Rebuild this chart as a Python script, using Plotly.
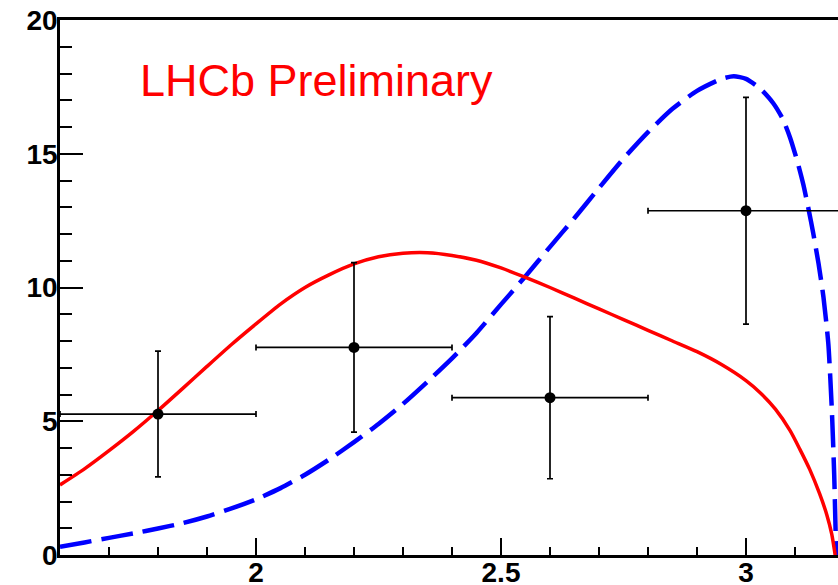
import plotly.graph_objects as go

# Data points (bin centres, contents, errors)
x_pts = [1.8, 2.2, 2.6, 3.0]
y_pts = [5.27, 7.76, 5.88, 12.87]
x_err = [0.2, 0.2, 0.2, 0.2]
y_err = [2.35, 3.17, 3.03, 4.24]

# Red solid curve
x_red = [1.60, 1.65, 1.70, 1.75, 1.80, 1.85, 1.90, 1.95, 2.00, 2.05, 2.10, 2.15,
         2.20, 2.25, 2.30, 2.35, 2.40, 2.45, 2.50, 2.55, 2.60, 2.65, 2.70, 2.75,
         2.80, 2.85, 2.90, 2.95, 3.00, 3.03, 3.06, 3.09, 3.11, 3.13, 3.15, 3.165, 3.175, 3.182]
y_red = [2.62, 3.22, 3.90, 4.62, 5.40, 6.22, 7.05, 7.87, 8.64, 9.38, 10.0, 10.48,
         10.88, 11.15, 11.28, 11.30, 11.2, 11.02, 10.73, 10.38, 10.0, 9.6, 9.2, 8.8,
         8.4, 8.0, 7.6, 7.12, 6.52, 6.05, 5.45, 4.65, 3.95, 3.2, 2.3, 1.5, 0.78, 0.0]

# Blue dashed curve
x_blue = [1.60, 1.65, 1.70, 1.75, 1.80, 1.85, 1.90, 1.95, 2.00, 2.05, 2.10, 2.15,
          2.20, 2.25, 2.30, 2.35, 2.40, 2.45, 2.50, 2.55, 2.60, 2.65, 2.70, 2.75,
          2.80, 2.85, 2.90, 2.95, 2.975, 3.00, 3.03, 3.056, 3.075, 3.09, 3.105, 3.117,
          3.128, 3.137, 3.148, 3.158, 3.168, 3.175, 3.180, 3.184]
y_blue = [0.31, 0.47, 0.64, 0.81, 0.99, 1.19, 1.44, 1.74, 2.08, 2.5, 3.0, 3.58,
          4.22, 4.9, 5.65, 6.48, 7.35, 8.3, 9.37, 10.42, 11.52, 12.6, 13.72, 14.82,
          15.81, 16.68, 17.35, 17.8, 17.9, 17.8, 17.42, 16.88, 16.3, 15.6, 14.7, 13.85,
          12.9, 12.05, 10.9, 9.65, 7.9, 5.5, 3.0, 0.0]

x_ticks = [2, 2.5, 3]
x_ticklabels = ["2", "2.5", "3"]
y_ticks = [0, 5, 10, 15, 20]
y_ticklabels = ["0", "5", "10", "15", "20"]

fig = go.Figure()

fig.add_trace(go.Scatter(x=x_blue, y=y_blue, mode="lines",
                         line=dict(color="#0000ff", width=4.5, dash="32px,10px",
                                   shape="spline", smoothing=0.6)))
fig.add_trace(go.Scatter(x=x_red, y=y_red, mode="lines",
                         line=dict(color="#ff0000", width=3.5, shape="spline", smoothing=0.6)))
fig.add_trace(go.Scatter(
    x=x_pts, y=y_pts, mode="markers",
    marker=dict(color="black", size=11),
    error_x=dict(type="data", array=x_err, color="black", thickness=1.7, width=3),
    error_y=dict(type="data", array=y_err, color="black", thickness=1.7, width=3),
))

tickfont = dict(family="Liberation Sans, Arial, sans-serif", size=28, color="black", weight="bold")

fig.update_xaxes(
    range=[1.6, 1.6 + 778 / 490], showline=True, linecolor="black", linewidth=2.5,
    mirror=True, ticks="inside", ticklen=17, tickwidth=2, tickcolor="black",
    tickvals=x_ticks, ticktext=x_ticklabels, tickfont=tickfont,
    ticklabelstandoff=-9, automargin=False,
    showgrid=False, zeroline=False,
    minor=dict(tick0=1.6, dtick=0.1, ticks="inside", ticklen=8, tickwidth=2,
               tickcolor="black", showgrid=False),
)
fig.update_yaxes(
    range=[0, 20], showline=True, linecolor="black", linewidth=2.5,
    ticks="inside", ticklen=23, tickwidth=2, tickcolor="black",
    tickvals=y_ticks, ticktext=y_ticklabels, tickfont=tickfont,
    ticklabelstandoff=-6, automargin=False,
    showgrid=False, zeroline=False,
    minor=dict(tick0=0, dtick=1, ticks="inside", ticklen=12, tickwidth=2,
               tickcolor="black", showgrid=False),
)

fig.add_annotation(x=1.6 + 78 / 490, y=17.72, xref="x", yref="y",
                   text="LHCb Preliminary", showarrow=False,
                   xanchor="left", yanchor="middle",
                   font=dict(family="Liberation Sans, Arial, sans-serif", size=45, color="#ff0000"))

fig.update_layout(
    width=838, height=585,
    margin=dict(l=60, r=0, t=20, b=30, autoexpand=False),
    showlegend=False,
    plot_bgcolor="white", paper_bgcolor="white",
)

fig.write_html("out.html")
